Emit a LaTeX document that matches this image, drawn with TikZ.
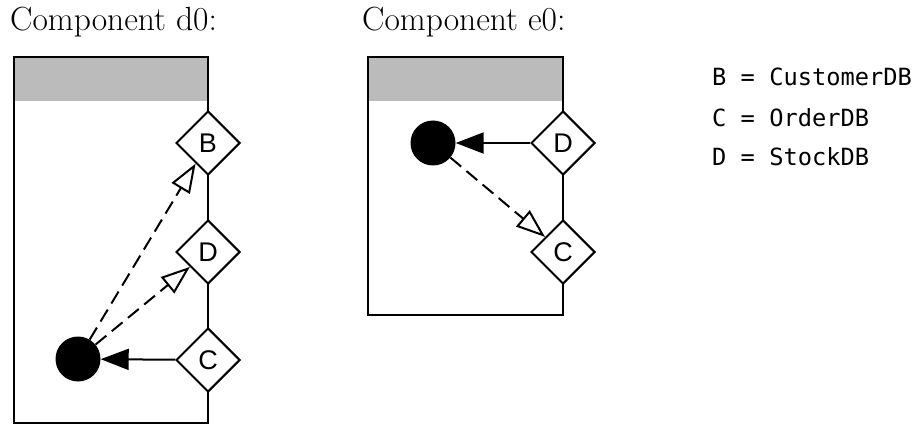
\documentclass[tikz,border=0pt]{standalone}
\usepackage{fontspec}
\newfontfamily\diafont{Liberation Sans}
\newfontfamily\legfont{DejaVu Sans Mono}
\usetikzlibrary{shapes.geometric,arrows.meta}
\definecolor{hdr}{RGB}{187,187,187}
\tikzset{
  comp/.style={draw=black,line width=2pt},
  port/.style={diamond,draw=black,fill=white,line width=2pt,minimum width=64pt,minimum height=64pt,inner sep=0pt,font=\diafont\fontsize{27}{27}\selectfont},
  dot/.style={circle,fill=black,minimum size=45pt,inner sep=0pt},
  use/.style={line width=2pt,-{Triangle[length=28pt,width=21pt]}},
  dep/.style={line width=2pt,dash pattern=on 14pt off 7pt,-{Triangle[open,length=29pt,width=21pt,line width=2pt]}},
  ttl/.style={anchor=base west,inner sep=0pt,font=\fontsize{33.5}{33.5}\selectfont},
  leg/.style={anchor=base west,inner sep=0pt,font=\legfont\fontsize{23.7}{23.7}\selectfont}
}
\begin{document}
\begin{tikzpicture}[x=1pt,y=-1pt]
\useasboundingbox (0,0) rectangle (916,425);
% titles
\node[ttl] (t1) at (10,31) {Component d0:};
\node[ttl] (t2) at (362,31) {Component e0:};
% component d0
\fill[hdr] (14,57) rectangle (208,101);
\draw[comp] (14,57) rectangle (208,423);
\node[port] (B1) at (208,143) {B};
\node[port] (D1) at (208,252) {D};
\node[port] (C1) at (208,360) {C};
\node[dot] (p1) at (78,359) {};
\draw[use] (C1) -- (p1);
\draw[dep] (p1) -- (B1);
\draw[dep] (p1) -- (D1);
% component e0
\fill[hdr] (368,57) rectangle (563,101);
\draw[comp] (368,57) rectangle (563,315);
\node[port] (D2) at (563,143) {D};
\node[port] (C2) at (563,252) {C};
\node[dot] (p2) at (433,143) {};
\draw[use] (D2) -- (p2);
\draw[dep] (p2) -- (C2);
% legend
\node[leg] (l1) at (712,86) {B = CustomerDB};
\node[leg] (l2) at (712,127) {C = OrderDB};
\node[leg] (l3) at (712,166) {D = StockDB};
\end{tikzpicture}
\end{document}
